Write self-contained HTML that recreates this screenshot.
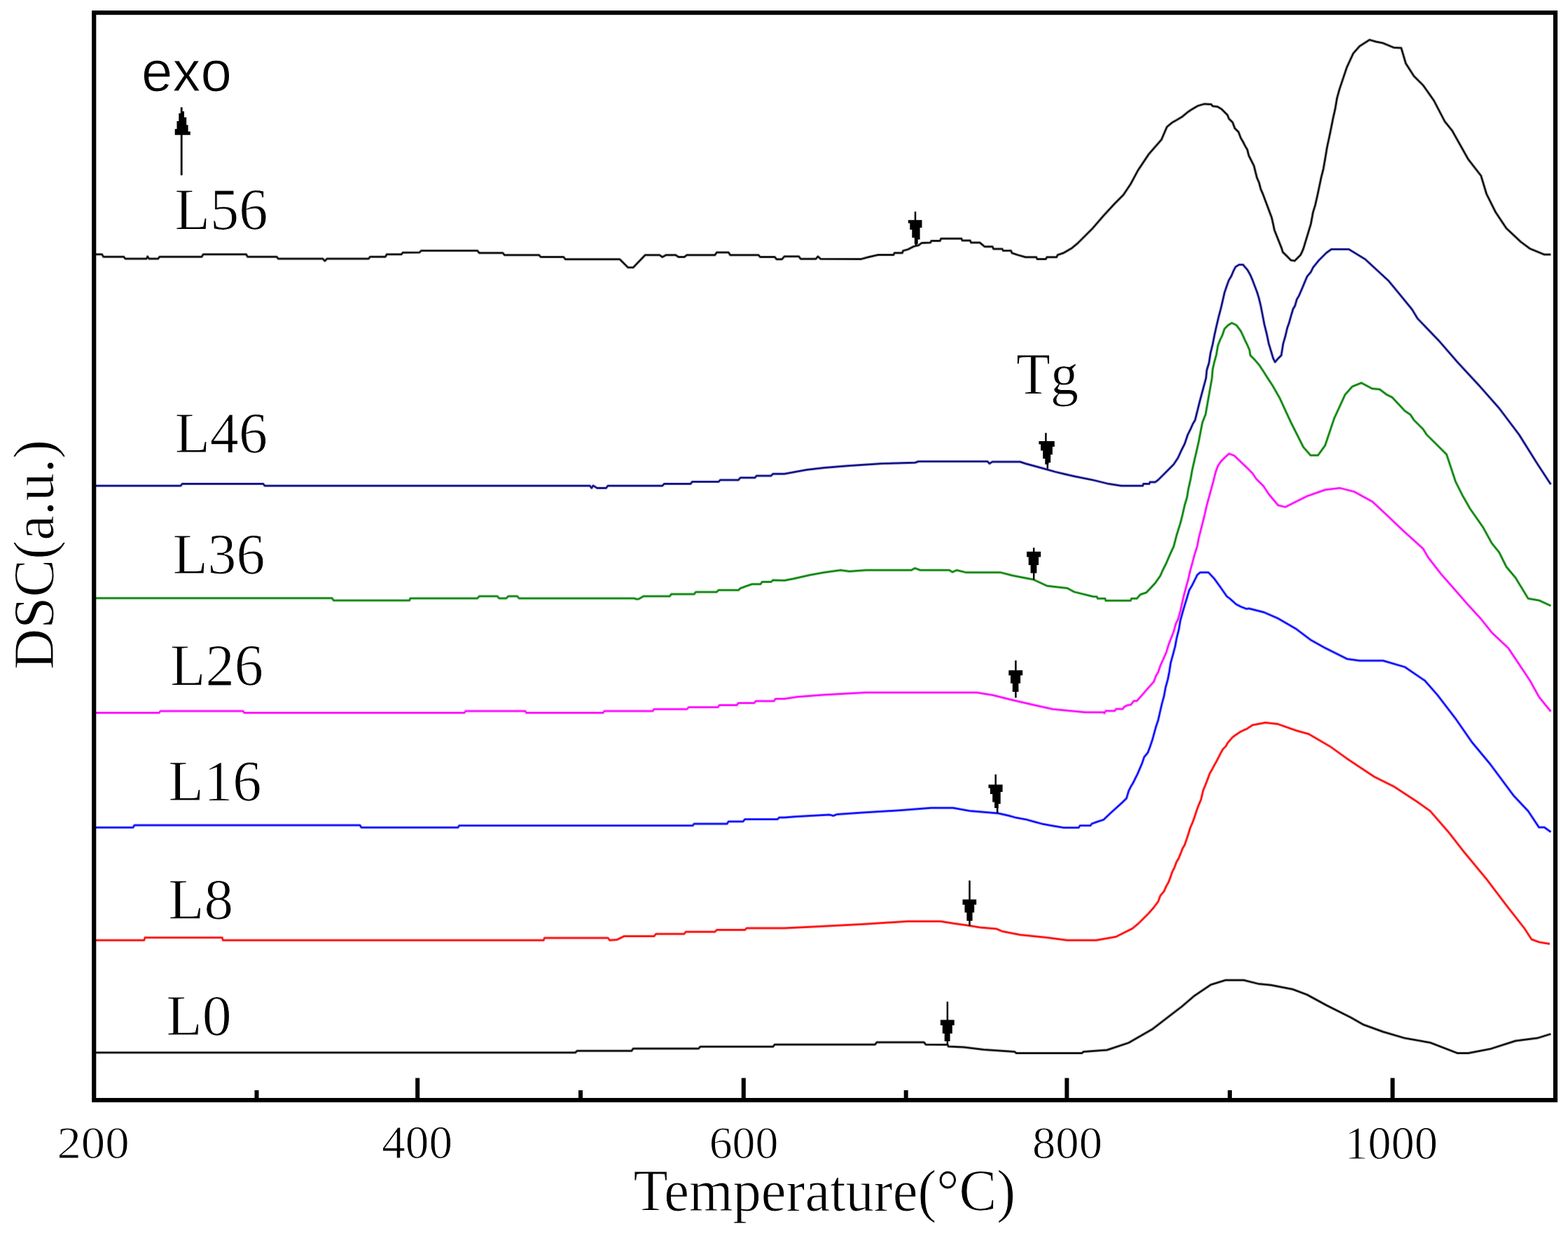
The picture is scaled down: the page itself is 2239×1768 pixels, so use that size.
<!DOCTYPE html>
<html><head><meta charset="utf-8"><title>DSC curves</title>
<style>html,body{margin:0;padding:0;background:#fff;}body{width:2239px;height:1768px;overflow:hidden;}svg{display:block;}</style>
</head><body>
<svg width="2239" height="1768" viewBox="0 0 2239 1768">
<rect width="2239" height="1768" fill="#fff"/>
<g>
<path d="M136.2 363.3 L145.6 363.3 L147.7 366.8 L176.8 366.8 L178.9 369.5 L209.1 369.5 L210.7 366.4 L212.8 369.5 L225.7 369.5 L227.8 366.8 L288.1 366.8 L290.2 363.3 L351.5 363.3 L353.6 366.8 L395.2 366.8 L397.3 369.5 L460.8 369.5 L463.9 372.6 L467.0 369.5 L526.3 369.5 L528.4 366.8 L550.2 366.8 L552.3 363.3 L573.1 363.3 L575.2 360.8 L598.8 360.6 L601.4 358.1 L681.7 358.1 L684.3 361.2 L717.9 361.2 L720.5 364.3 L769.7 364.3 L772.3 367.1 L804.7 367.1 L807.3 370.2 L884.9 370.2 L896.6 381.9 L904.3 381.9 L921.2 364.3 L941.9 364.3 L945.8 367.1 L950.9 364.3 L965.0 364.3 L969.1 367.1 L977.0 367.1 L980.7 364.3 L1020.8 364.3 L1023.4 360.6 L1040.3 360.6 L1042.8 364.3 L1083.0 364.3 L1085.6 367.1 L1106.3 367.1 L1108.9 370.2 L1116.6 370.2 L1120.0 366.3 L1140.7 366.3 L1143.3 369.7 L1165.0 369.7 L1167.9 366.3 L1171.8 369.7 L1230.0 369.9 L1239.7 367.2 L1253.6 364.1 L1275.8 364.1 L1277.2 361.3 L1288.3 361.3 L1289.6 358.1 L1296.6 356.1 L1304.9 351.9 L1311.8 350.2 L1316.0 347.0 L1328.5 346.4 L1329.9 343.9 L1342.3 343.9 L1343.7 340.8 L1372.9 340.8 L1374.2 343.6 L1385.3 343.6 L1386.7 346.6 L1399.2 346.6 L1406.1 352.2 L1417.2 352.2 L1418.6 355.4 L1431.1 355.4 L1432.5 358.1 L1443.6 358.1 L1445.0 361.3 L1453.3 364.1 L1464.4 367.2 L1479.7 367.2 L1481.0 369.9 L1493.5 369.9 L1494.9 367.2 L1508.8 367.2 L1510.2 364.1 L1518.5 361.3 L1530.0 354.7 L1539.4 346.9 L1560.1 326.2 L1575.7 308.1 L1591.2 291.3 L1604.1 278.3 L1614.5 262.8 L1624.9 243.4 L1640.4 220.1 L1658.5 199.4 L1666.3 181.2 L1674.1 174.8 L1680.0 171.5 L1687.8 166.9 L1695.5 160.5 L1700.0 157.4 L1704.2 154.8 L1710.5 151.1 L1720.0 148.4 L1729.5 149.0 L1731.6 151.6 L1739.0 152.6 L1744.3 155.8 L1752.7 164.2 L1754.8 169.5 L1760.1 174.8 L1763.2 183.2 L1768.5 188.5 L1771.7 196.9 L1774.8 202.2 L1778.0 208.5 L1781.1 213.8 L1783.2 222.2 L1786.4 228.5 L1790.6 236.9 L1792.7 245.4 L1794.8 253.8 L1798.0 261.2 L1800.1 269.6 L1803.3 277.0 L1806.4 285.4 L1809.6 293.8 L1812.7 302.3 L1815.9 310.7 L1818.0 320.0 L1819.8 328.7 L1830.1 354.6 L1831.7 360.0 L1838.1 366.3 L1843.3 371.6 L1848.6 372.6 L1857.0 364.2 L1859.1 360.0 L1861.2 355.0 L1871.8 320.0 L1874.9 303.3 L1878.1 292.8 L1881.2 279.1 L1883.9 266.4 L1886.5 253.8 L1889.7 241.2 L1892.3 226.4 L1894.9 210.6 L1898.1 195.8 L1900.7 183.2 L1903.4 169.5 L1906.5 155.8 L1909.2 140.0 L1912.9 126.8 L1923.3 95.8 L1932.3 76.3 L1941.4 66.0 L1955.6 56.9 L1964.7 59.5 L1975.0 61.6 L1990.6 68.1 L2000.9 68.6 L2007.4 90.6 L2019.0 108.7 L2032.0 121.6 L2047.5 143.6 L2063.0 173.4 L2073.4 186.3 L2096.7 227.7 L2114.8 251.0 L2122.6 276.9 L2135.5 302.8 L2151.0 326.1 L2171.7 345.5 L2184.7 355.1 L2205.4 363.6 L2214.4 363.6" fill="none" stroke="#000000" stroke-width="4.00" stroke-opacity="0.40" stroke-linejoin="round"/>
<path d="M134.6 693.7 L258.0 693.7 L260.2 691.1 L376.0 691.1 L378.0 693.7 L842.2 693.7 L844.8 697.0 L847.0 693.5 L852.6 697.0 L865.5 697.0 L868.1 693.7 L945.8 693.7 L948.3 691.1 L985.9 691.1 L988.5 688.0 L1026.0 688.0 L1028.6 685.4 L1054.5 685.4 L1057.1 682.3 L1077.8 682.3 L1080.4 679.4 L1101.1 679.4 L1103.7 676.8 L1120.0 676.8 L1151.1 671.1 L1177.0 668.0 L1210.6 665.2 L1259.8 662.1 L1306.4 660.8 L1311.6 659.0 L1410.0 659.0 L1413.0 662.0 L1417.0 659.5 L1456.6 659.5 L1465.0 662.3 L1487.0 668.2 L1507.0 673.9 L1519.0 676.8 L1534.2 680.2 L1560.1 685.4 L1583.4 691.1 L1601.1 693.8 L1631.7 693.8 L1632.7 691.1 L1641.0 691.1 L1642.0 688.5 L1649.6 688.5 L1653.8 685.4 L1665.4 673.8 L1675.9 663.2 L1682.2 653.7 L1686.4 644.3 L1691.7 633.7 L1695.9 621.1 L1700.1 612.6 L1703.3 605.3 L1706.5 600.0 L1713.6 571.4 L1722.1 540.0 L1723.2 528.6 L1726.4 518.1 L1728.5 504.4 L1731.6 491.7 L1734.3 478.0 L1736.9 466.4 L1740.1 452.7 L1743.2 441.1 L1745.9 429.5 L1748.5 418.0 L1751.7 408.5 L1754.8 400.0 L1758.0 394.8 L1761.1 387.4 L1764.3 381.1 L1769.6 377.9 L1774.8 377.9 L1781.2 385.3 L1785.4 392.7 L1788.5 400.0 L1791.7 408.5 L1794.9 416.9 L1797.5 425.3 L1800.1 435.9 L1802.8 449.6 L1805.4 463.3 L1808.6 475.9 L1811.7 490.7 L1814.9 501.2 L1818.0 511.7 L1820.7 517.0 L1825.4 511.7 L1829.6 507.5 L1832.3 490.7 L1835.4 480.1 L1838.1 468.5 L1840.7 461.2 L1843.3 451.7 L1846.5 441.1 L1849.1 436.9 L1851.8 427.4 L1854.9 422.2 L1858.1 414.8 L1861.2 407.4 L1863.4 402.1 L1866.5 394.8 L1871.8 388.5 L1874.9 382.1 L1883.4 371.6 L1893.9 361.1 L1901.3 355.9 L1925.9 355.9 L1949.2 370.1 L1982.8 401.1 L1995.7 416.7 L2016.4 442.0 L2024.2 454.9 L2055.3 487.3 L2081.1 517.1 L2112.2 550.7 L2140.7 583.0 L2169.1 620.6 L2195.0 662.0 L2214.4 691.7" fill="none" stroke="#000080" stroke-width="4.00" stroke-opacity="0.40" stroke-linejoin="round"/>
<path d="M134.6 854.2 L474.0 854.2 L476.4 857.5 L584.6 857.5 L585.9 854.4 L681.7 854.4 L684.3 851.6 L710.2 851.6 L712.7 854.4 L723.0 854.4 L725.7 851.6 L738.6 851.6 L741.2 854.4 L905.6 854.4 L908.0 855.5 L912.0 855.5 L918.6 851.6 L956.1 851.6 L958.7 848.5 L991.1 848.5 L993.7 845.4 L1023.4 845.4 L1026.0 842.8 L1054.5 842.8 L1057.1 840.2 L1064.9 837.3 L1073.9 834.2 L1086.0 834.2 L1088.2 831.1 L1101.0 831.1 L1103.7 828.5 L1120.0 829.0 L1132.9 826.5 L1156.2 821.3 L1177.0 817.4 L1200.3 814.3 L1213.0 816.0 L1236.5 814.3 L1301.2 814.3 L1306.4 811.4 L1314.2 814.3 L1355.6 814.3 L1360.0 817.0 L1366.0 814.3 L1378.9 817.4 L1428.1 817.4 L1446.2 822.0 L1476.0 827.8 L1495.4 836.8 L1523.9 839.9 L1534.2 845.4 L1560.0 851.7 L1566.3 852.2 L1567.4 854.8 L1577.9 854.8 L1579.0 857.8 L1614.3 857.8 L1615.8 854.8 L1623.2 854.8 L1628.5 849.0 L1636.9 846.2 L1649.6 832.7 L1656.9 822.1 L1660.1 814.8 L1665.4 804.2 L1668.5 796.9 L1671.7 789.5 L1675.9 780.5 L1680.1 764.4 L1685.4 747.5 L1688.6 734.9 L1691.7 721.2 L1694.9 710.6 L1697.0 698.0 L1700.1 684.3 L1702.3 671.7 L1705.4 658.0 L1708.6 644.3 L1711.7 630.6 L1714.9 613.7 L1717.0 603.2 L1721.4 592.1 L1730.6 540.0 L1731.6 527.5 L1733.7 518.1 L1736.9 506.5 L1739.0 493.8 L1742.2 485.4 L1745.3 479.1 L1748.5 469.6 L1753.8 464.3 L1759.0 461.2 L1765.4 464.3 L1771.7 472.7 L1774.8 479.1 L1778.0 486.4 L1781.2 492.8 L1784.3 500.1 L1785.4 507.5 L1791.7 513.8 L1798.0 521.2 L1804.3 530.7 L1809.6 539.1 L1817.2 550.7 L1827.5 568.8 L1843.0 602.5 L1861.2 638.7 L1871.5 650.3 L1881.9 650.3 L1892.2 636.1 L1905.2 597.3 L1920.7 563.6 L1931.0 552.0 L1944.0 546.8 L1959.5 555.1 L1969.9 555.9 L1980.2 563.6 L1988.0 567.5 L2006.1 586.9 L2013.9 592.1 L2019.0 599.9 L2032.0 612.8 L2037.1 620.6 L2055.3 638.7 L2065.6 649.0 L2078.5 687.9 L2088.9 708.6 L2099.3 726.7 L2117.4 752.6 L2130.3 775.9 L2140.7 788.8 L2151.0 809.5 L2164.0 825.0 L2182.1 854.8 L2197.6 857.4 L2214.4 865.1" fill="none" stroke="#008000" stroke-width="4.00" stroke-opacity="0.40" stroke-linejoin="round"/>
<path d="M134.6 1018.1 L227.0 1018.1 L229.0 1015.5 L347.0 1015.5 L349.0 1018.1 L663.0 1018.1 L664.9 1015.5 L750.0 1015.5 L751.6 1018.1 L861.0 1018.1 L862.9 1015.5 L932.0 1015.5 L934.1 1012.7 L981.0 1012.7 L983.3 1010.1 L1025.0 1010.1 L1027.3 1007.0 L1052.0 1007.0 L1054.5 1003.9 L1077.0 1003.9 L1079.1 1001.3 L1105.0 1001.3 L1107.6 997.9 L1120.0 997.9 L1138.1 995.3 L1177.0 992.2 L1236.5 988.9 L1394.4 988.9 L1417.7 992.7 L1448.8 1000.5 L1477.3 1007.0 L1503.2 1012.7 L1523.9 1014.7 L1549.8 1017.3 L1575.7 1017.3 L1576.9 1018.5 L1579.0 1015.3 L1591.6 1015.3 L1593.7 1012.5 L1603.2 1012.5 L1605.3 1009.5 L1610.6 1006.9 L1614.8 1006.4 L1619.0 1001.1 L1623.2 1001.1 L1631.7 991.6 L1639.0 983.2 L1647.5 973.7 L1650.6 965.3 L1653.8 960.0 L1656.9 950.7 L1661.2 941.2 L1665.4 931.7 L1668.5 921.2 L1671.7 912.8 L1675.9 902.2 L1679.1 890.6 L1682.2 884.3 L1685.4 872.7 L1688.0 861.1 L1690.7 849.5 L1693.8 838.0 L1697.0 826.4 L1699.6 814.8 L1702.8 803.2 L1705.9 791.6 L1709.6 780.0 L1711.7 768.6 L1716.0 751.7 L1720.2 734.9 L1723.3 721.2 L1726.5 709.6 L1729.7 698.0 L1732.8 686.4 L1736.0 673.8 L1739.1 665.3 L1743.4 659.0 L1748.6 653.7 L1754.9 647.9 L1762.3 650.6 L1780.0 667.4 L1788.7 676.2 L1793.9 684.0 L1804.2 694.3 L1812.0 706.0 L1824.9 721.5 L1835.3 724.1 L1848.2 717.6 L1866.3 708.6 L1892.2 699.5 L1912.9 696.9 L1933.6 702.1 L1959.5 716.3 L1977.6 733.1 L2003.5 757.7 L2032.0 783.6 L2039.7 796.6 L2057.8 819.8 L2076.0 840.5 L2094.1 861.3 L2114.8 884.0 L2130.3 903.4 L2153.6 925.4 L2164.0 940.9 L2184.7 972.0 L2197.6 995.3 L2214.4 1016.0" fill="none" stroke="#ff00ff" stroke-width="4.00" stroke-opacity="0.40" stroke-linejoin="round"/>
<path d="M134.6 1181.7 L190.0 1181.7 L192.0 1178.6 L514.0 1178.6 L516.0 1181.7 L654.0 1181.7 L655.8 1179.1 L989.0 1179.1 L991.1 1176.6 L1038.0 1176.6 L1040.3 1173.2 L1061.0 1173.2 L1063.6 1170.1 L1110.0 1170.1 L1112.7 1167.5 L1120.0 1167.5 L1135.5 1166.2 L1184.7 1163.6 L1190.0 1165.0 L1195.0 1163.0 L1231.3 1160.5 L1288.3 1157.1 L1329.7 1153.8 L1360.8 1153.8 L1384.1 1157.9 L1425.5 1161.5 L1440.0 1164.8 L1449.5 1167.4 L1466.3 1170.6 L1475.8 1173.2 L1487.4 1176.4 L1501.1 1179.0 L1519.0 1182.1 L1540.1 1182.1 L1542.2 1179.0 L1557.0 1179.0 L1559.1 1176.4 L1566.4 1173.7 L1575.9 1170.6 L1585.4 1161.6 L1602.3 1146.3 L1608.6 1140.0 L1611.6 1129.7 L1614.8 1123.3 L1618.0 1118.1 L1621.1 1111.7 L1624.3 1105.4 L1627.4 1098.0 L1630.6 1090.7 L1633.8 1081.2 L1639.0 1074.9 L1642.2 1066.4 L1645.4 1056.9 L1648.0 1047.5 L1650.6 1038.0 L1653.8 1028.5 L1656.4 1016.9 L1659.1 1005.3 L1662.2 993.7 L1664.3 982.1 L1667.5 970.5 L1669.6 960.0 L1671.7 946.5 L1674.9 934.9 L1678.0 923.3 L1680.1 911.7 L1683.3 899.1 L1685.4 886.4 L1688.6 874.8 L1691.7 864.3 L1694.9 853.8 L1698.0 843.2 L1702.3 835.8 L1706.5 827.4 L1709.6 821.1 L1713.8 817.4 L1725.4 817.4 L1733.9 826.4 L1742.3 838.0 L1751.8 851.7 L1756.0 854.8 L1765.5 863.2 L1771.8 866.4 L1780.0 869.6 L1783.5 869.0 L1804.2 874.2 L1824.9 883.2 L1850.8 898.2 L1871.5 913.8 L1892.2 925.4 L1923.3 940.9 L1941.4 943.5 L1975.0 943.5 L2006.1 952.6 L2034.6 972.0 L2052.7 992.7 L2078.5 1026.3 L2101.9 1060.0 L2127.7 1091.0 L2161.4 1136.3 L2182.1 1158.3 L2197.6 1181.6 L2205.4 1181.6 L2214.4 1188.1" fill="none" stroke="#0000ff" stroke-width="4.00" stroke-opacity="0.40" stroke-linejoin="round"/>
<path d="M134.6 1342.8 L205.8 1342.8 L207.1 1338.9 L317.1 1338.9 L318.4 1342.8 L776.2 1342.8 L777.5 1339.5 L868.1 1339.5 L870.7 1342.8 L881.0 1342.0 L891.4 1336.9 L934.1 1336.9 L936.7 1333.8 L976.8 1333.8 L979.4 1330.7 L1020.8 1330.7 L1023.4 1328.1 L1063.6 1328.1 L1066.2 1325.5 L1116.0 1325.5 L1120.0 1325.4 L1161.4 1323.4 L1233.9 1319.7 L1296.0 1315.8 L1342.7 1315.8 L1363.4 1319.0 L1381.5 1321.5 L1399.6 1324.6 L1422.9 1326.5 L1430.7 1329.9 L1456.6 1335.0 L1495.4 1339.0 L1523.9 1342.8 L1565.3 1342.8 L1593.8 1337.7 L1617.0 1326.0 L1625.3 1319.1 L1633.8 1310.7 L1640.1 1304.4 L1647.5 1296.0 L1653.8 1287.5 L1656.9 1279.1 L1662.2 1272.8 L1665.4 1265.4 L1668.5 1260.1 L1671.7 1251.7 L1673.8 1245.4 L1677.0 1239.0 L1680.1 1230.6 L1682.8 1226.4 L1685.4 1220.1 L1688.6 1211.7 L1691.7 1206.4 L1694.3 1199.0 L1697.0 1190.6 L1699.6 1182.1 L1702.8 1174.8 L1705.9 1166.3 L1708.6 1157.9 L1711.7 1149.5 L1714.9 1142.1 L1718.1 1128.6 L1721.2 1121.2 L1724.4 1112.8 L1727.5 1104.4 L1730.7 1099.1 L1733.9 1092.8 L1737.0 1087.5 L1740.2 1081.2 L1743.4 1074.9 L1746.5 1069.6 L1750.7 1065.4 L1752.8 1061.2 L1760.2 1052.7 L1764.4 1049.6 L1770.7 1045.4 L1777.1 1042.2 L1780.0 1041.1 L1788.7 1035.4 L1806.8 1032.0 L1824.9 1034.1 L1850.8 1043.2 L1868.9 1048.3 L1900.0 1066.5 L1923.3 1083.3 L1962.1 1109.2 L1990.6 1123.4 L2024.2 1145.4 L2042.3 1158.3 L2068.2 1188.1 L2091.5 1217.9 L2122.6 1255.4 L2151.0 1292.9 L2176.9 1326.0 L2187.0 1341.5 L2197.6 1345.4 L2213.0 1348.0" fill="none" stroke="#ff0000" stroke-width="4.00" stroke-opacity="0.40" stroke-linejoin="round"/>
<path d="M134.6 1503.3 L821.5 1503.3 L824.1 1500.8 L901.8 1500.8 L904.3 1497.4 L997.5 1497.4 L1000.1 1494.8 L1103.7 1494.8 L1106.3 1491.7 L1249.4 1491.7 L1252.0 1488.6 L1319.4 1488.6 L1322.0 1491.7 L1353.0 1491.9 L1354.3 1494.5 L1376.3 1495.6 L1404.8 1498.9 L1448.8 1502.0 L1451.4 1504.1 L1544.6 1504.1 L1547.2 1502.0 L1580.8 1499.5 L1611.9 1489.1 L1645.6 1469.7 L1680.0 1443.2 L1687.8 1437.3 L1705.9 1421.8 L1729.2 1406.2 L1749.9 1399.8 L1775.8 1399.8 L1796.5 1404.9 L1814.6 1406.7 L1845.6 1412.7 L1866.3 1420.5 L1894.8 1436.0 L1928.4 1452.8 L1946.6 1463.2 L1975.0 1473.5 L2006.0 1482.6 L2042.3 1489.0 L2081.1 1504.0 L2096.7 1504.0 L2127.7 1498.1 L2164.0 1486.5 L2195.0 1482.6 L2214.4 1476.6" fill="none" stroke="#000000" stroke-width="4.00" stroke-opacity="0.40" stroke-linejoin="round"/>
<path d="M136.2 363.3 L145.6 363.3 L147.7 366.8 L176.8 366.8 L178.9 369.5 L209.1 369.5 L210.7 366.4 L212.8 369.5 L225.7 369.5 L227.8 366.8 L288.1 366.8 L290.2 363.3 L351.5 363.3 L353.6 366.8 L395.2 366.8 L397.3 369.5 L460.8 369.5 L463.9 372.6 L467.0 369.5 L526.3 369.5 L528.4 366.8 L550.2 366.8 L552.3 363.3 L573.1 363.3 L575.2 360.8 L598.8 360.6 L601.4 358.1 L681.7 358.1 L684.3 361.2 L717.9 361.2 L720.5 364.3 L769.7 364.3 L772.3 367.1 L804.7 367.1 L807.3 370.2 L884.9 370.2 L896.6 381.9 L904.3 381.9 L921.2 364.3 L941.9 364.3 L945.8 367.1 L950.9 364.3 L965.0 364.3 L969.1 367.1 L977.0 367.1 L980.7 364.3 L1020.8 364.3 L1023.4 360.6 L1040.3 360.6 L1042.8 364.3 L1083.0 364.3 L1085.6 367.1 L1106.3 367.1 L1108.9 370.2 L1116.6 370.2 L1120.0 366.3 L1140.7 366.3 L1143.3 369.7 L1165.0 369.7 L1167.9 366.3 L1171.8 369.7 L1230.0 369.9 L1239.7 367.2 L1253.6 364.1 L1275.8 364.1 L1277.2 361.3 L1288.3 361.3 L1289.6 358.1 L1296.6 356.1 L1304.9 351.9 L1311.8 350.2 L1316.0 347.0 L1328.5 346.4 L1329.9 343.9 L1342.3 343.9 L1343.7 340.8 L1372.9 340.8 L1374.2 343.6 L1385.3 343.6 L1386.7 346.6 L1399.2 346.6 L1406.1 352.2 L1417.2 352.2 L1418.6 355.4 L1431.1 355.4 L1432.5 358.1 L1443.6 358.1 L1445.0 361.3 L1453.3 364.1 L1464.4 367.2 L1479.7 367.2 L1481.0 369.9 L1493.5 369.9 L1494.9 367.2 L1508.8 367.2 L1510.2 364.1 L1518.5 361.3 L1530.0 354.7 L1539.4 346.9 L1560.1 326.2 L1575.7 308.1 L1591.2 291.3 L1604.1 278.3 L1614.5 262.8 L1624.9 243.4 L1640.4 220.1 L1658.5 199.4 L1666.3 181.2 L1674.1 174.8 L1680.0 171.5 L1687.8 166.9 L1695.5 160.5 L1700.0 157.4 L1704.2 154.8 L1710.5 151.1 L1720.0 148.4 L1729.5 149.0 L1731.6 151.6 L1739.0 152.6 L1744.3 155.8 L1752.7 164.2 L1754.8 169.5 L1760.1 174.8 L1763.2 183.2 L1768.5 188.5 L1771.7 196.9 L1774.8 202.2 L1778.0 208.5 L1781.1 213.8 L1783.2 222.2 L1786.4 228.5 L1790.6 236.9 L1792.7 245.4 L1794.8 253.8 L1798.0 261.2 L1800.1 269.6 L1803.3 277.0 L1806.4 285.4 L1809.6 293.8 L1812.7 302.3 L1815.9 310.7 L1818.0 320.0 L1819.8 328.7 L1830.1 354.6 L1831.7 360.0 L1838.1 366.3 L1843.3 371.6 L1848.6 372.6 L1857.0 364.2 L1859.1 360.0 L1861.2 355.0 L1871.8 320.0 L1874.9 303.3 L1878.1 292.8 L1881.2 279.1 L1883.9 266.4 L1886.5 253.8 L1889.7 241.2 L1892.3 226.4 L1894.9 210.6 L1898.1 195.8 L1900.7 183.2 L1903.4 169.5 L1906.5 155.8 L1909.2 140.0 L1912.9 126.8 L1923.3 95.8 L1932.3 76.3 L1941.4 66.0 L1955.6 56.9 L1964.7 59.5 L1975.0 61.6 L1990.6 68.1 L2000.9 68.6 L2007.4 90.6 L2019.0 108.7 L2032.0 121.6 L2047.5 143.6 L2063.0 173.4 L2073.4 186.3 L2096.7 227.7 L2114.8 251.0 L2122.6 276.9 L2135.5 302.8 L2151.0 326.1 L2171.7 345.5 L2184.7 355.1 L2205.4 363.6 L2214.4 363.6" fill="none" stroke="#000000" stroke-width="2.00" stroke-linejoin="round"/>
<path d="M134.6 693.7 L258.0 693.7 L260.2 691.1 L376.0 691.1 L378.0 693.7 L842.2 693.7 L844.8 697.0 L847.0 693.5 L852.6 697.0 L865.5 697.0 L868.1 693.7 L945.8 693.7 L948.3 691.1 L985.9 691.1 L988.5 688.0 L1026.0 688.0 L1028.6 685.4 L1054.5 685.4 L1057.1 682.3 L1077.8 682.3 L1080.4 679.4 L1101.1 679.4 L1103.7 676.8 L1120.0 676.8 L1151.1 671.1 L1177.0 668.0 L1210.6 665.2 L1259.8 662.1 L1306.4 660.8 L1311.6 659.0 L1410.0 659.0 L1413.0 662.0 L1417.0 659.5 L1456.6 659.5 L1465.0 662.3 L1487.0 668.2 L1507.0 673.9 L1519.0 676.8 L1534.2 680.2 L1560.1 685.4 L1583.4 691.1 L1601.1 693.8 L1631.7 693.8 L1632.7 691.1 L1641.0 691.1 L1642.0 688.5 L1649.6 688.5 L1653.8 685.4 L1665.4 673.8 L1675.9 663.2 L1682.2 653.7 L1686.4 644.3 L1691.7 633.7 L1695.9 621.1 L1700.1 612.6 L1703.3 605.3 L1706.5 600.0 L1713.6 571.4 L1722.1 540.0 L1723.2 528.6 L1726.4 518.1 L1728.5 504.4 L1731.6 491.7 L1734.3 478.0 L1736.9 466.4 L1740.1 452.7 L1743.2 441.1 L1745.9 429.5 L1748.5 418.0 L1751.7 408.5 L1754.8 400.0 L1758.0 394.8 L1761.1 387.4 L1764.3 381.1 L1769.6 377.9 L1774.8 377.9 L1781.2 385.3 L1785.4 392.7 L1788.5 400.0 L1791.7 408.5 L1794.9 416.9 L1797.5 425.3 L1800.1 435.9 L1802.8 449.6 L1805.4 463.3 L1808.6 475.9 L1811.7 490.7 L1814.9 501.2 L1818.0 511.7 L1820.7 517.0 L1825.4 511.7 L1829.6 507.5 L1832.3 490.7 L1835.4 480.1 L1838.1 468.5 L1840.7 461.2 L1843.3 451.7 L1846.5 441.1 L1849.1 436.9 L1851.8 427.4 L1854.9 422.2 L1858.1 414.8 L1861.2 407.4 L1863.4 402.1 L1866.5 394.8 L1871.8 388.5 L1874.9 382.1 L1883.4 371.6 L1893.9 361.1 L1901.3 355.9 L1925.9 355.9 L1949.2 370.1 L1982.8 401.1 L1995.7 416.7 L2016.4 442.0 L2024.2 454.9 L2055.3 487.3 L2081.1 517.1 L2112.2 550.7 L2140.7 583.0 L2169.1 620.6 L2195.0 662.0 L2214.4 691.7" fill="none" stroke="#000080" stroke-width="2.00" stroke-linejoin="round"/>
<path d="M134.6 854.2 L474.0 854.2 L476.4 857.5 L584.6 857.5 L585.9 854.4 L681.7 854.4 L684.3 851.6 L710.2 851.6 L712.7 854.4 L723.0 854.4 L725.7 851.6 L738.6 851.6 L741.2 854.4 L905.6 854.4 L908.0 855.5 L912.0 855.5 L918.6 851.6 L956.1 851.6 L958.7 848.5 L991.1 848.5 L993.7 845.4 L1023.4 845.4 L1026.0 842.8 L1054.5 842.8 L1057.1 840.2 L1064.9 837.3 L1073.9 834.2 L1086.0 834.2 L1088.2 831.1 L1101.0 831.1 L1103.7 828.5 L1120.0 829.0 L1132.9 826.5 L1156.2 821.3 L1177.0 817.4 L1200.3 814.3 L1213.0 816.0 L1236.5 814.3 L1301.2 814.3 L1306.4 811.4 L1314.2 814.3 L1355.6 814.3 L1360.0 817.0 L1366.0 814.3 L1378.9 817.4 L1428.1 817.4 L1446.2 822.0 L1476.0 827.8 L1495.4 836.8 L1523.9 839.9 L1534.2 845.4 L1560.0 851.7 L1566.3 852.2 L1567.4 854.8 L1577.9 854.8 L1579.0 857.8 L1614.3 857.8 L1615.8 854.8 L1623.2 854.8 L1628.5 849.0 L1636.9 846.2 L1649.6 832.7 L1656.9 822.1 L1660.1 814.8 L1665.4 804.2 L1668.5 796.9 L1671.7 789.5 L1675.9 780.5 L1680.1 764.4 L1685.4 747.5 L1688.6 734.9 L1691.7 721.2 L1694.9 710.6 L1697.0 698.0 L1700.1 684.3 L1702.3 671.7 L1705.4 658.0 L1708.6 644.3 L1711.7 630.6 L1714.9 613.7 L1717.0 603.2 L1721.4 592.1 L1730.6 540.0 L1731.6 527.5 L1733.7 518.1 L1736.9 506.5 L1739.0 493.8 L1742.2 485.4 L1745.3 479.1 L1748.5 469.6 L1753.8 464.3 L1759.0 461.2 L1765.4 464.3 L1771.7 472.7 L1774.8 479.1 L1778.0 486.4 L1781.2 492.8 L1784.3 500.1 L1785.4 507.5 L1791.7 513.8 L1798.0 521.2 L1804.3 530.7 L1809.6 539.1 L1817.2 550.7 L1827.5 568.8 L1843.0 602.5 L1861.2 638.7 L1871.5 650.3 L1881.9 650.3 L1892.2 636.1 L1905.2 597.3 L1920.7 563.6 L1931.0 552.0 L1944.0 546.8 L1959.5 555.1 L1969.9 555.9 L1980.2 563.6 L1988.0 567.5 L2006.1 586.9 L2013.9 592.1 L2019.0 599.9 L2032.0 612.8 L2037.1 620.6 L2055.3 638.7 L2065.6 649.0 L2078.5 687.9 L2088.9 708.6 L2099.3 726.7 L2117.4 752.6 L2130.3 775.9 L2140.7 788.8 L2151.0 809.5 L2164.0 825.0 L2182.1 854.8 L2197.6 857.4 L2214.4 865.1" fill="none" stroke="#008000" stroke-width="2.00" stroke-linejoin="round"/>
<path d="M134.6 1018.1 L227.0 1018.1 L229.0 1015.5 L347.0 1015.5 L349.0 1018.1 L663.0 1018.1 L664.9 1015.5 L750.0 1015.5 L751.6 1018.1 L861.0 1018.1 L862.9 1015.5 L932.0 1015.5 L934.1 1012.7 L981.0 1012.7 L983.3 1010.1 L1025.0 1010.1 L1027.3 1007.0 L1052.0 1007.0 L1054.5 1003.9 L1077.0 1003.9 L1079.1 1001.3 L1105.0 1001.3 L1107.6 997.9 L1120.0 997.9 L1138.1 995.3 L1177.0 992.2 L1236.5 988.9 L1394.4 988.9 L1417.7 992.7 L1448.8 1000.5 L1477.3 1007.0 L1503.2 1012.7 L1523.9 1014.7 L1549.8 1017.3 L1575.7 1017.3 L1576.9 1018.5 L1579.0 1015.3 L1591.6 1015.3 L1593.7 1012.5 L1603.2 1012.5 L1605.3 1009.5 L1610.6 1006.9 L1614.8 1006.4 L1619.0 1001.1 L1623.2 1001.1 L1631.7 991.6 L1639.0 983.2 L1647.5 973.7 L1650.6 965.3 L1653.8 960.0 L1656.9 950.7 L1661.2 941.2 L1665.4 931.7 L1668.5 921.2 L1671.7 912.8 L1675.9 902.2 L1679.1 890.6 L1682.2 884.3 L1685.4 872.7 L1688.0 861.1 L1690.7 849.5 L1693.8 838.0 L1697.0 826.4 L1699.6 814.8 L1702.8 803.2 L1705.9 791.6 L1709.6 780.0 L1711.7 768.6 L1716.0 751.7 L1720.2 734.9 L1723.3 721.2 L1726.5 709.6 L1729.7 698.0 L1732.8 686.4 L1736.0 673.8 L1739.1 665.3 L1743.4 659.0 L1748.6 653.7 L1754.9 647.9 L1762.3 650.6 L1780.0 667.4 L1788.7 676.2 L1793.9 684.0 L1804.2 694.3 L1812.0 706.0 L1824.9 721.5 L1835.3 724.1 L1848.2 717.6 L1866.3 708.6 L1892.2 699.5 L1912.9 696.9 L1933.6 702.1 L1959.5 716.3 L1977.6 733.1 L2003.5 757.7 L2032.0 783.6 L2039.7 796.6 L2057.8 819.8 L2076.0 840.5 L2094.1 861.3 L2114.8 884.0 L2130.3 903.4 L2153.6 925.4 L2164.0 940.9 L2184.7 972.0 L2197.6 995.3 L2214.4 1016.0" fill="none" stroke="#ff00ff" stroke-width="2.00" stroke-linejoin="round"/>
<path d="M134.6 1181.7 L190.0 1181.7 L192.0 1178.6 L514.0 1178.6 L516.0 1181.7 L654.0 1181.7 L655.8 1179.1 L989.0 1179.1 L991.1 1176.6 L1038.0 1176.6 L1040.3 1173.2 L1061.0 1173.2 L1063.6 1170.1 L1110.0 1170.1 L1112.7 1167.5 L1120.0 1167.5 L1135.5 1166.2 L1184.7 1163.6 L1190.0 1165.0 L1195.0 1163.0 L1231.3 1160.5 L1288.3 1157.1 L1329.7 1153.8 L1360.8 1153.8 L1384.1 1157.9 L1425.5 1161.5 L1440.0 1164.8 L1449.5 1167.4 L1466.3 1170.6 L1475.8 1173.2 L1487.4 1176.4 L1501.1 1179.0 L1519.0 1182.1 L1540.1 1182.1 L1542.2 1179.0 L1557.0 1179.0 L1559.1 1176.4 L1566.4 1173.7 L1575.9 1170.6 L1585.4 1161.6 L1602.3 1146.3 L1608.6 1140.0 L1611.6 1129.7 L1614.8 1123.3 L1618.0 1118.1 L1621.1 1111.7 L1624.3 1105.4 L1627.4 1098.0 L1630.6 1090.7 L1633.8 1081.2 L1639.0 1074.9 L1642.2 1066.4 L1645.4 1056.9 L1648.0 1047.5 L1650.6 1038.0 L1653.8 1028.5 L1656.4 1016.9 L1659.1 1005.3 L1662.2 993.7 L1664.3 982.1 L1667.5 970.5 L1669.6 960.0 L1671.7 946.5 L1674.9 934.9 L1678.0 923.3 L1680.1 911.7 L1683.3 899.1 L1685.4 886.4 L1688.6 874.8 L1691.7 864.3 L1694.9 853.8 L1698.0 843.2 L1702.3 835.8 L1706.5 827.4 L1709.6 821.1 L1713.8 817.4 L1725.4 817.4 L1733.9 826.4 L1742.3 838.0 L1751.8 851.7 L1756.0 854.8 L1765.5 863.2 L1771.8 866.4 L1780.0 869.6 L1783.5 869.0 L1804.2 874.2 L1824.9 883.2 L1850.8 898.2 L1871.5 913.8 L1892.2 925.4 L1923.3 940.9 L1941.4 943.5 L1975.0 943.5 L2006.1 952.6 L2034.6 972.0 L2052.7 992.7 L2078.5 1026.3 L2101.9 1060.0 L2127.7 1091.0 L2161.4 1136.3 L2182.1 1158.3 L2197.6 1181.6 L2205.4 1181.6 L2214.4 1188.1" fill="none" stroke="#0000ff" stroke-width="2.00" stroke-linejoin="round"/>
<path d="M134.6 1342.8 L205.8 1342.8 L207.1 1338.9 L317.1 1338.9 L318.4 1342.8 L776.2 1342.8 L777.5 1339.5 L868.1 1339.5 L870.7 1342.8 L881.0 1342.0 L891.4 1336.9 L934.1 1336.9 L936.7 1333.8 L976.8 1333.8 L979.4 1330.7 L1020.8 1330.7 L1023.4 1328.1 L1063.6 1328.1 L1066.2 1325.5 L1116.0 1325.5 L1120.0 1325.4 L1161.4 1323.4 L1233.9 1319.7 L1296.0 1315.8 L1342.7 1315.8 L1363.4 1319.0 L1381.5 1321.5 L1399.6 1324.6 L1422.9 1326.5 L1430.7 1329.9 L1456.6 1335.0 L1495.4 1339.0 L1523.9 1342.8 L1565.3 1342.8 L1593.8 1337.7 L1617.0 1326.0 L1625.3 1319.1 L1633.8 1310.7 L1640.1 1304.4 L1647.5 1296.0 L1653.8 1287.5 L1656.9 1279.1 L1662.2 1272.8 L1665.4 1265.4 L1668.5 1260.1 L1671.7 1251.7 L1673.8 1245.4 L1677.0 1239.0 L1680.1 1230.6 L1682.8 1226.4 L1685.4 1220.1 L1688.6 1211.7 L1691.7 1206.4 L1694.3 1199.0 L1697.0 1190.6 L1699.6 1182.1 L1702.8 1174.8 L1705.9 1166.3 L1708.6 1157.9 L1711.7 1149.5 L1714.9 1142.1 L1718.1 1128.6 L1721.2 1121.2 L1724.4 1112.8 L1727.5 1104.4 L1730.7 1099.1 L1733.9 1092.8 L1737.0 1087.5 L1740.2 1081.2 L1743.4 1074.9 L1746.5 1069.6 L1750.7 1065.4 L1752.8 1061.2 L1760.2 1052.7 L1764.4 1049.6 L1770.7 1045.4 L1777.1 1042.2 L1780.0 1041.1 L1788.7 1035.4 L1806.8 1032.0 L1824.9 1034.1 L1850.8 1043.2 L1868.9 1048.3 L1900.0 1066.5 L1923.3 1083.3 L1962.1 1109.2 L1990.6 1123.4 L2024.2 1145.4 L2042.3 1158.3 L2068.2 1188.1 L2091.5 1217.9 L2122.6 1255.4 L2151.0 1292.9 L2176.9 1326.0 L2187.0 1341.5 L2197.6 1345.4 L2213.0 1348.0" fill="none" stroke="#ff0000" stroke-width="2.00" stroke-linejoin="round"/>
<path d="M134.6 1503.3 L821.5 1503.3 L824.1 1500.8 L901.8 1500.8 L904.3 1497.4 L997.5 1497.4 L1000.1 1494.8 L1103.7 1494.8 L1106.3 1491.7 L1249.4 1491.7 L1252.0 1488.6 L1319.4 1488.6 L1322.0 1491.7 L1353.0 1491.9 L1354.3 1494.5 L1376.3 1495.6 L1404.8 1498.9 L1448.8 1502.0 L1451.4 1504.1 L1544.6 1504.1 L1547.2 1502.0 L1580.8 1499.5 L1611.9 1489.1 L1645.6 1469.7 L1680.0 1443.2 L1687.8 1437.3 L1705.9 1421.8 L1729.2 1406.2 L1749.9 1399.8 L1775.8 1399.8 L1796.5 1404.9 L1814.6 1406.7 L1845.6 1412.7 L1866.3 1420.5 L1894.8 1436.0 L1928.4 1452.8 L1946.6 1463.2 L1975.0 1473.5 L2006.0 1482.6 L2042.3 1489.0 L2081.1 1504.0 L2096.7 1504.0 L2127.7 1498.1 L2164.0 1486.5 L2195.0 1482.6 L2214.4 1476.6" fill="none" stroke="#000000" stroke-width="2.00" stroke-linejoin="round"/>
<rect x="134.2" y="18.1" width="2086.8" height="1553.0" fill="none" stroke="#000" stroke-width="6.2"/>
<path d="M366.5 1571.1 V1556.9 M596.2 1571.1 V1539.4 M829.0 1571.1 V1556.9 M1061.8 1571.1 V1539.4 M1293.7 1571.1 V1556.9 M1523.4 1571.1 V1539.4 M1756.1 1571.1 V1556.9 M1988.5 1571.1 V1539.4" stroke="#000" stroke-width="6" fill="none"/>
<path d="M1307.0 302.3 V315.2 M1308.0 347.6 V350.5" stroke="#000" stroke-width="2.5" fill="none"/>
<polygon points="1316.5,314.2 1316.5,325.2 1313.6,325.2 1313.6,342.0 1310.7,342.0 1310.7,348.6 1305.8,348.6 1305.8,339.6 1302.3,339.6 1302.3,328.1 1299.3,328.1 1299.3,318.7 1296.8,318.7 1296.8,314.2" fill="#000"/>
<path d="M1493.4 618.2 V631.1 M1495.8 662.3 V669.5" stroke="#000" stroke-width="2.5" fill="none"/>
<polygon points="1505.8,630.1 1505.8,637.9 1502.9,637.9 1502.9,649.3 1500.2,649.3 1500.2,660.8 1497.4,660.8 1497.4,663.3 1492.3,663.3 1492.3,655.1 1489.2,655.1 1489.2,643.6 1486.1,643.6 1486.1,634.6 1483.4,634.6 1483.4,630.1" fill="#000"/>
<path d="M1476.2 782.2 V788.7 M1476.2 817.4 V828.0" stroke="#000" stroke-width="2.5" fill="none"/>
<polygon points="1486.2,787.7 1486.2,795.5 1483.1,795.5 1483.1,807.0 1480.4,807.0 1480.4,818.4 1471.6,818.4 1471.6,807.0 1468.7,807.0 1468.7,795.5 1466.1,795.5 1466.1,787.7" fill="#000"/>
<path d="M1450.4 943.2 V958.3 M1450.4 986.9 V996.5" stroke="#000" stroke-width="2.5" fill="none"/>
<polygon points="1460.2,957.3 1460.2,964.5 1457.1,964.5 1457.1,976.0 1454.4,976.0 1454.4,987.9 1445.8,987.9 1445.8,976.0 1443.0,976.0 1443.0,964.5 1440.3,964.5 1440.3,957.3" fill="#000"/>
<path d="M1421.7 1106.1 V1121.5 M1424.2 1153.1 V1161.0" stroke="#000" stroke-width="2.5" fill="none"/>
<polygon points="1431.6,1120.5 1431.6,1131.1 1428.7,1131.1 1428.7,1148.0 1425.8,1148.0 1425.8,1154.1 1420.1,1154.1 1420.1,1145.5 1417.2,1145.5 1417.2,1134.0 1413.9,1134.0 1413.9,1125.4 1411.5,1125.4 1411.5,1120.5" fill="#000"/>
<path d="M1384.5 1257.6 V1285.5 M1384.5 1314.0 V1322.5" stroke="#000" stroke-width="2.5" fill="none"/>
<polygon points="1394.2,1284.5 1394.2,1292.1 1391.2,1292.1 1391.2,1303.2 1388.6,1303.2 1388.6,1315.0 1380.4,1315.0 1380.4,1303.2 1377.5,1303.2 1377.5,1292.1 1374.5,1292.1 1374.5,1284.5" fill="#000"/>
<path d="M1352.9 1430.5 V1457.4 M1352.9 1485.9 V1492.5" stroke="#000" stroke-width="2.5" fill="none"/>
<polygon points="1362.7,1456.4 1362.7,1464.3 1359.8,1464.3 1359.8,1475.9 1356.6,1475.9 1356.6,1486.9 1348.7,1486.9 1348.7,1475.9 1345.8,1475.9 1345.8,1464.3 1342.9,1464.3 1342.9,1456.4" fill="#000"/>
<path d="M259.2 250.3 V190" stroke="#000" stroke-width="2.8"/>
<polygon points="257.8,153.3 260.6,153.3 260.6,159.0 263.0,159.0 263.0,167.4 266.2,167.4 266.2,178.6 268.6,178.6 268.6,187.8 271.8,187.8 271.8,192.7 249.7,192.7 249.7,184.3 252.5,184.3 252.5,173.0 255.3,173.0 255.3,161.8 257.8,161.8" fill="#000"/>
<g fill="#000" stroke="#fff" stroke-width="1.00"><text x="202.10" y="130.00" font-family='"Liberation Sans", Arial, sans-serif' font-size="80.78" textLength="128.76" lengthAdjust="spacingAndGlyphs">exo</text><text x="249.62" y="328.49" font-family='"Liberation Serif", "Times New Roman", serif' font-size="83.81" textLength="132.84" lengthAdjust="spacingAndGlyphs">L56</text><text x="249.63" y="645.52" font-family='"Liberation Serif", "Times New Roman", serif' font-size="82.29" textLength="132.33" lengthAdjust="spacingAndGlyphs">L46</text><text x="246.64" y="819.04" font-family='"Liberation Serif", "Times New Roman", serif' font-size="82.93" textLength="131.81" lengthAdjust="spacingAndGlyphs">L36</text><text x="243.11" y="979.48" font-family='"Liberation Serif", "Times New Roman", serif' font-size="83.81" textLength="132.85" lengthAdjust="spacingAndGlyphs">L26</text><text x="240.62" y="1143.03" font-family='"Liberation Serif", "Times New Roman", serif' font-size="82.93" textLength="132.84" lengthAdjust="spacingAndGlyphs">L16</text><text x="240.58" y="1312.02" font-family='"Liberation Serif", "Times New Roman", serif' font-size="83.54" textLength="92.61" lengthAdjust="spacingAndGlyphs">L8</text><text x="237.59" y="1478.01" font-family='"Liberation Serif", "Times New Roman", serif' font-size="82.89" textLength="93.12" lengthAdjust="spacingAndGlyphs">L0</text><text x="1451.05" y="562.95" font-family='"Liberation Serif", "Times New Roman", serif' font-size="84.73" textLength="88.99" lengthAdjust="spacingAndGlyphs">Tg</text><text x="81.46" y="1654.00" font-family='"Liberation Serif", "Times New Roman", serif' font-size="66.07" textLength="103.18" lengthAdjust="spacingAndGlyphs">200</text><text x="545.17" y="1653.99" font-family='"Liberation Serif", "Times New Roman", serif' font-size="67.93" textLength="100.90" lengthAdjust="spacingAndGlyphs">400</text><text x="1012.67" y="1653.51" font-family='"Liberation Serif", "Times New Roman", serif' font-size="66.07" textLength="98.85" lengthAdjust="spacingAndGlyphs">600</text><text x="1473.94" y="1654.48" font-family='"Liberation Serif", "Times New Roman", serif' font-size="66.07" textLength="100.12" lengthAdjust="spacingAndGlyphs">800</text><text x="1920.14" y="1655.01" font-family='"Liberation Serif", "Times New Roman", serif' font-size="67.28" textLength="132.91" lengthAdjust="spacingAndGlyphs">1000</text><text x="904.56" y="1728.78" font-family='"Liberation Serif", "Times New Roman", serif' font-size="85.63" textLength="545.45" lengthAdjust="spacingAndGlyphs">Temperature(°C)</text><text transform="translate(76.30 954.01) rotate(-90)" x="-2.32" y="0" font-family='"Liberation Serif", "Times New Roman", serif' font-size="83.07" textLength="328.40" lengthAdjust="spacingAndGlyphs">DSC(a.u.)</text></g>
</g>
</svg>
</body></html>
